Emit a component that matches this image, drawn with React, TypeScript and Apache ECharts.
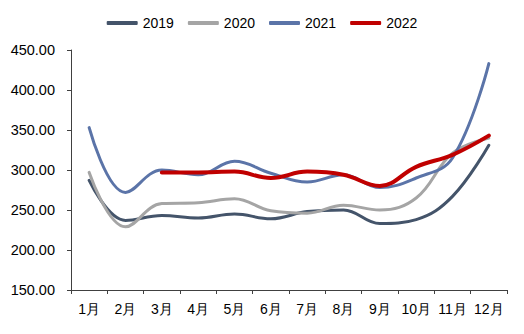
import React, { useEffect, useRef } from "react";
import * as echarts from "echarts";

const months = ["1月", "2月", "3月", "4月", "5月", "6月", "7月", "8月", "9月", "10月", "11月", "12月"];
const s2019 = [287, 237, 243, 240, 245, 239, 248, 250, 233, 238, 267, 331];
const s2020 = [297, 229, 258, 259, 264, 249, 246, 256, 250, 265, 321, 340];
const s2021 = [353, 272, 300, 294, 311, 296, 285, 294, 278, 290, 315, 433];
const s2022 = [null, null, 297, 297, 298, 290, 298, 294, 280, 304, 319, 343];
const yTicks = { min: 150, max: 450, interval: 50 };

export default function App() {
  const ref = useRef<HTMLDivElement>(null);
  useEffect(() => {
    const chart = echarts.init(ref.current!, null, { renderer: "svg" });
    const font = "'Liberation Sans', Arial, sans-serif";
    const mk = (name: string, data: (number | null)[], color: string, width: number) => ({
      name,
      type: "line",
      data,
      smooth: 0.4,
      showSymbol: false,
      symbol: "none",
      lineStyle: { color, width, cap: "round" },
      itemStyle: { color },
    });
    chart.setOption({
      animation: false,
      legend: {
        top: 11,
        left: "center",
        itemWidth: 31,
        itemHeight: 4,
        itemGap: 14,
        icon: "roundRect",
        textStyle: { fontFamily: font, fontSize: 14, color: "#000" },
        data: ["2019", "2020", "2021", "2022"],
      },
      grid: { left: 71, right: 17, top: 50, bottom: 44 },
      xAxis: {
        type: "category",
        data: months,
        boundaryGap: true,
        axisLine: { lineStyle: { color: "#404040", width: 1 } },
        axisTick: { show: true, length: 4, lineStyle: { color: "#404040" } },
        axisLabel: { fontFamily: font, fontSize: 14, color: "#000", margin: 12, interval: 0 },
      },
      yAxis: {
        type: "value",
        min: yTicks.min,
        max: yTicks.max,
        interval: yTicks.interval,
        splitLine: { show: false },
        axisLine: { show: true, lineStyle: { color: "#404040", width: 1 } },
        axisTick: { show: true, length: 4, lineStyle: { color: "#404040" } },
        axisLabel: {
          fontFamily: font,
          fontSize: 14.5,
          color: "#000",
          margin: 16,
          formatter: (v: number) => v.toFixed(2),
        },
      },
      series: [
        mk("2019", s2019, "#44546A", 3),
        mk("2020", s2020, "#A5A5A5", 3),
        mk("2021", s2021, "#5B74A8", 3),
        mk("2022", s2022, "#C00000", 4),
      ],
    });
    return () => chart.dispose();
  }, []);
  return <div ref={ref} style={{ width: 524, height: 334, position: "absolute", left: 0, top: 0 }} />;
}
